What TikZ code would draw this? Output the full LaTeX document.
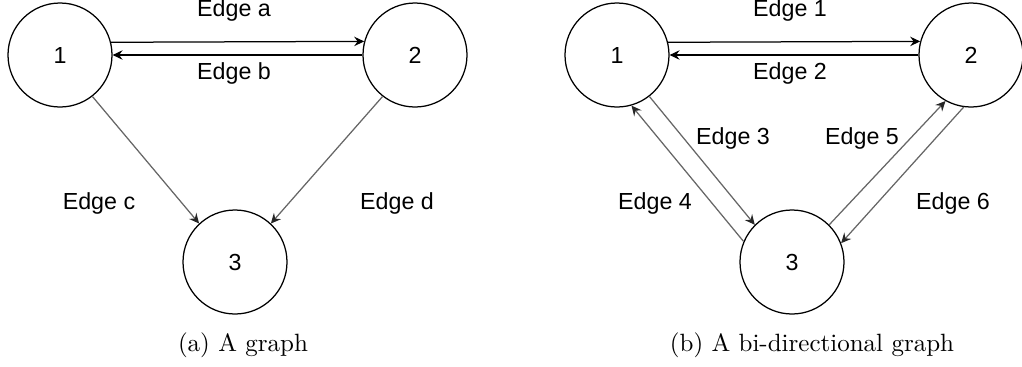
\documentclass[tikz,border=0pt]{standalone}
\usepackage{fontspec}
\newfontfamily\arialf{Liberation Sans}
\usetikzlibrary{arrows.meta}
\tikzset{
  vtx/.style={circle,draw,line width=0.5pt,minimum size=41.6pt,inner sep=0pt,font=\arialf\fontsize{9.3}{11}\selectfont},
  elab/.style={font=\arialf\fontsize{9.3}{11}\selectfont,inner sep=0pt},
  blk/.style={line width=0.5pt,-{Stealth[length=4pt,width=3.8pt,inset=1.4pt]}},
  gry/.style={line width=0.5pt,draw=black!60,-{Stealth[length=4pt,width=3.8pt,inset=1.4pt,color=black!85]}},
  captxt/.style={font=\fontsize{10}{12}\selectfont,inner sep=0pt}
}
\begin{document}
\begin{tikzpicture}[x=0.4pt,y=-0.4pt]
\useasboundingbox (0,0) rectangle (1022,367);
% left graph
\node[vtx] (a1) at (60,55) {1};
\node[vtx] (a2) at (415,55) {2};
\node[vtx] (a3) at (235,262) {3};
\draw[blk] (a1.14.5) -- (a2.165.5);
\draw[blk] (a2.west) -- (a1.east);
\draw[gry] (a1.-52) -- (a3.133);
\draw[gry] (a2.-128) -- (a3.47);
\node[elab] (la) at (234,10) {Edge a};
\node[elab] (lb) at (234,73) {Edge b};
\node[elab] (lc) at (99,203) {Edge c};
\node[elab] (ld) at (397,203) {Edge d};
% right graph
\node[vtx] (b1) at (617,55) {1};
\node[vtx] (b2) at (971,55) {2};
\node[vtx] (b3) at (792,262) {3};
\draw[blk] (b1.14.5) -- (b2.165.5);
\draw[blk] (b2.west) -- (b1.east);
\draw[gry] (b1.-52.5) -- (b3.135);
\draw[gry] (b3.157) -- (b1.-74);
\draw[gry] (b3.45) -- (b2.-119);
\draw[gry] (b2.-98) -- (b3.21.6);
\node[elab] (l1) at (790,10) {Edge 1};
\node[elab] (l2) at (790,73) {Edge 2};
\node[elab] (l3) at (733,138) {Edge 3};
\node[elab] (l5) at (862,138) {Edge 5};
\node[elab] (l4) at (655,203) {Edge 4};
\node[elab] (l6) at (953,203) {Edge 6};
% captions
\node[captxt] (ca) at (243,345) {(a) A graph};
\node[captxt] (cb) at (812,345) {(b) A bi-directional graph};
\end{tikzpicture}
\end{document}
